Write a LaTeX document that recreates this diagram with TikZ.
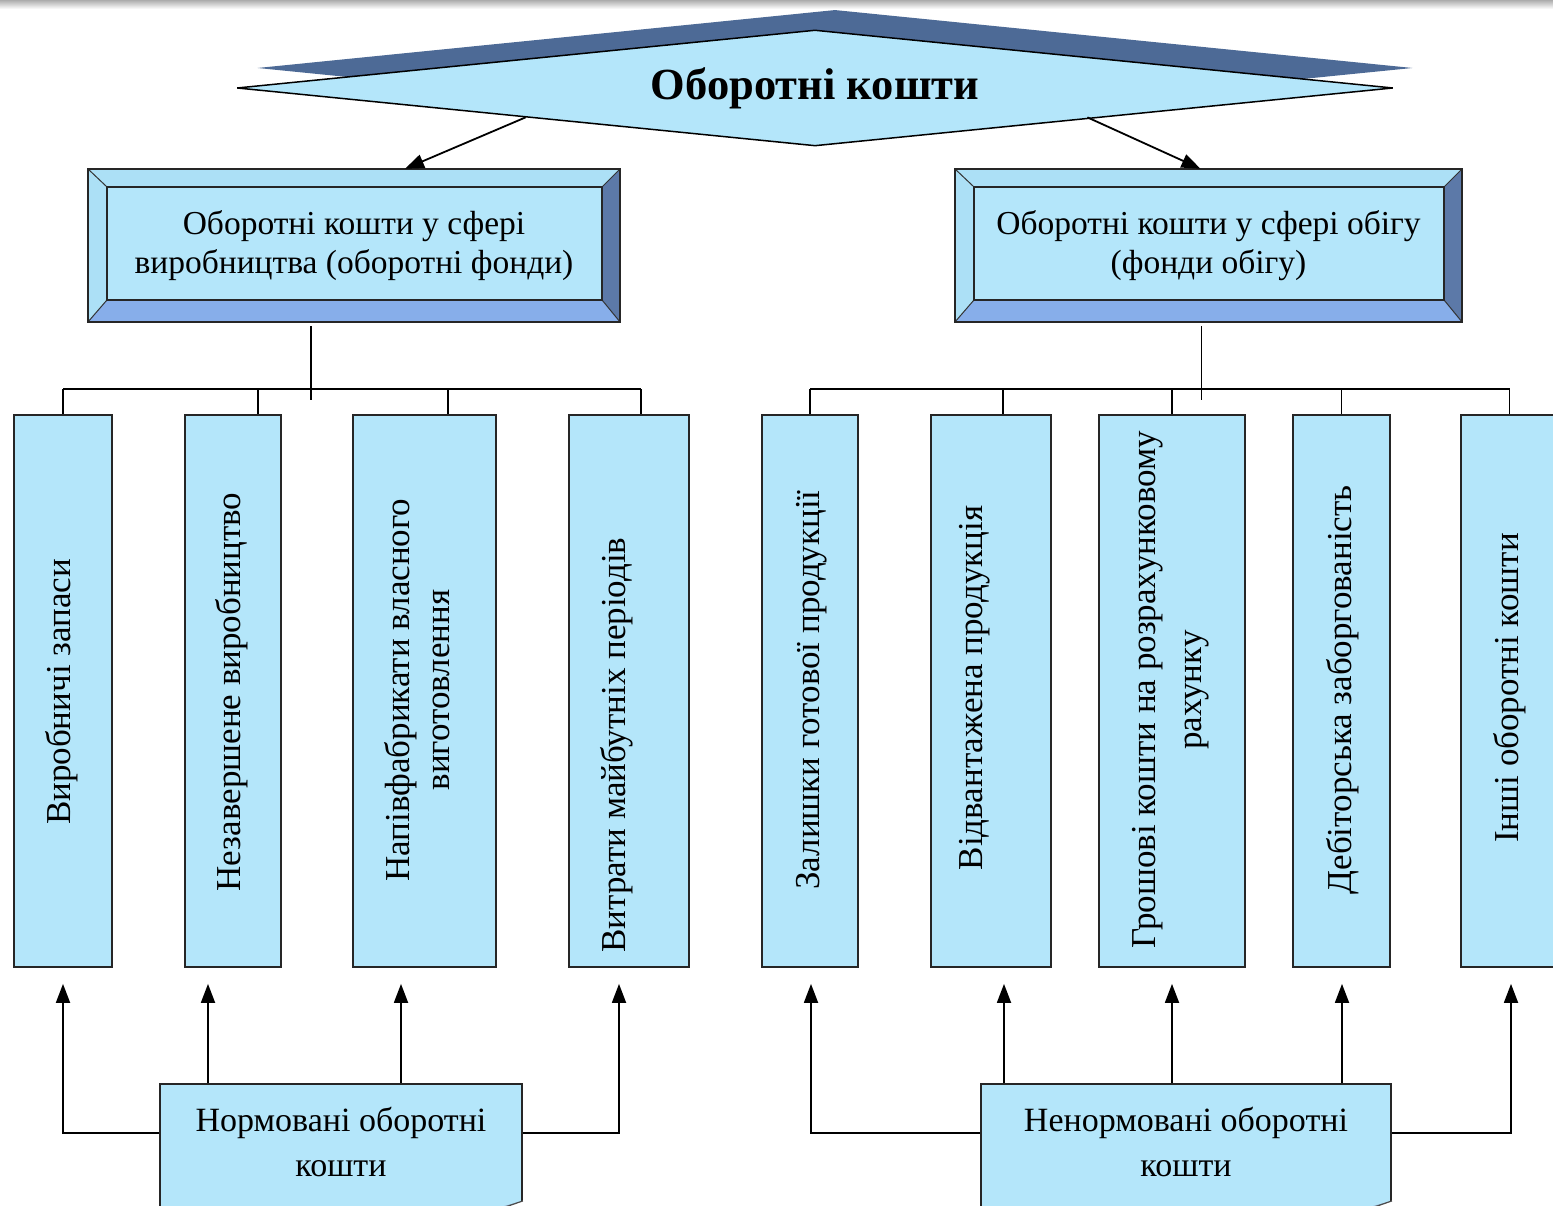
\documentclass[tikz,border=0pt]{standalone}
\usepackage{fontspec}
\setmainfont{Liberation Serif}
\usetikzlibrary{shapes.geometric,arrows.meta,calc}
\definecolor{fillb}{HTML}{B4E6FA}
\definecolor{bevt}{HTML}{ACE0F6}
\definecolor{darkd}{HTML}{4D6A96}
\definecolor{bevr}{HTML}{5C79A8}
\definecolor{bevb}{HTML}{87AEEA}
\definecolor{foldc}{HTML}{8FA6C4}
\newcommand\bevelize[1]{%
  \fill[bevt] (#1.north west) -- (#1.north east) -- ([shift={(-18,-18)}]#1.north east) -- ([shift={(19,-18)}]#1.north west) -- cycle;
  \fill[bevt] (#1.north west) -- ([shift={(19,-18)}]#1.north west) -- ([shift={(19,22)}]#1.south west) -- (#1.south west) -- cycle;
  \fill[bevr] (#1.north east) -- (#1.south east) -- ([shift={(-18,22)}]#1.south east) -- ([shift={(-18,-18)}]#1.north east) -- cycle;
  \fill[bevb] (#1.south west) -- (#1.south east) -- ([shift={(-18,22)}]#1.south east) -- ([shift={(19,22)}]#1.south west) -- cycle;
  \draw[line width=1pt, black!80] (#1.north west) -- ([shift={(19,-18)}]#1.north west)
        (#1.north east) -- ([shift={(-18,-18)}]#1.north east)
        (#1.south east) -- ([shift={(-18,22)}]#1.south east)
        (#1.south west) -- ([shift={(19,22)}]#1.south west);
  \draw[line width=1.8pt, black!85] ([shift={(19,-18)}]#1.north west) rectangle ([shift={(-18,22)}]#1.south east);
  \draw[line width=1.8pt, black!85] (#1.north west) rectangle (#1.south east);
}
\newcommand\foldize[1]{%
  \fill[white] ([yshift=16]#1.south east) -- ([xshift=1,yshift=-1]#1.south east) -- ([xshift=-46]#1.south east) -- cycle;
  \fill[foldc] ([yshift=16]#1.south east) -- ([xshift=-46]#1.south east) -- ([shift={(-22,10)}]#1.south east) -- cycle;
  \draw[line width=1.2pt, black!70] ([yshift=16]#1.south east) -- ([xshift=-46]#1.south east);
}
\begin{document}
\begin{tikzpicture}[x=1pt,y=1pt,
  ln/.style={line width=1.8pt, black},
  arr/.style={ln, -{Triangle[length=19pt,width=14pt]}},
  vbox/.style={draw=black!85, line width=1.8pt, fill=fillb, minimum height=552pt, inner sep=0pt},
  vtext/.style={rotate=90, font=\fontsize{35}{40}\selectfont, align=center, inner sep=0pt},
  bevel/.style={fill=fillb, minimum height=153pt, inner sep=0pt, font=\fontsize{33.5}{39}\selectfont, align=center},
  note/.style={draw=black!85, line width=1.8pt, fill=fillb, minimum height=132pt, inner sep=0pt},
  notetext/.style={font=\fontsize{34}{45}\selectfont, align=center, inner sep=0pt}
]
\clip (0,0) rectangle (1553,1206);
\fill[white] (0,0) rectangle (1553,1206);
\shade[top color=gray!65, bottom color=white] (0,1197) rectangle (1553,1206);

% title diamond
\node[diamond, aspect=10, fill=darkd, minimum width=1155pt, minimum height=116pt, inner sep=0pt] (dsh) at (835,1138) {};
\node[diamond, aspect=10, draw=black, line width=1.5pt, fill=fillb, minimum width=1156pt, minimum height=116pt, inner sep=0pt,
      font=\bfseries\fontsize{44.5}{48}\selectfont] (top) at (815,1118) {Оборотні кошти};

% level 2 bevel boxes
\node[bevel, minimum width=532pt] (lb) at (354,960.5) {Оборотні кошти у сфері\\виробництва (оборотні фонди)};
\bevelize{lb}
\node[bevel, minimum width=507pt] (rb) at (1208.5,960.5) {Оборотні кошти у сфері обігу\\(фонди обігу)};
\bevelize{rb}

\draw[arr] (top.south west) -- ([xshift=51pt]lb.north);
\draw[arr] ([xshift=-17pt]top.south east) -- ([xshift=-8pt]rb.north);

% vertical boxes
\node[vbox, minimum width=98pt]  (b1) at (63,515) {};
\node[vbox, minimum width=96pt]  (b2) at (233,515) {};
\node[vbox, minimum width=143pt] (b3) at (424.5,515) {};
\node[vbox, minimum width=120pt] (b4) at (629,515) {};
\node[vbox, minimum width=96pt]  (b5) at (810,515) {};
\node[vbox, minimum width=120pt] (b6) at (991,515) {};
\node[vbox, minimum width=146pt] (b7) at (1172,515) {};
\node[vbox, minimum width=97pt]  (b8) at (1341.5,515) {};
\node[vbox, minimum width=97pt]  (b9) at (1509.5,515) {};

\node[vtext] (t1) at (62,514) {Виробничі запаси};
\node[vtext] (t2) at (232,514) {Незавершене виробництво};
\node[vtext] (t3) at (417,516) {Напівфабрикати власного\\виготовлення};
\node[vtext] (t4) at (617,461) {Витрати майбутніх періодів};
\node[vtext] (t5) at (812,516) {Залишки готової продукції};
\node[vtext] (t6) at (975,518) {Відвантажена продукція};
\node[vtext, font=\fontsize{35}{46}\selectfont] (t7) at (1171,516) {Грошові кошти на розрахунковому\\рахунку};
\node[vtext] (t8) at (1343,516) {Дебіторська заборгованість};
\node[vtext] (t9) at (1510,518) {Інші оборотні кошти};

% trees
\draw[ln] ([xshift=-43pt,yshift=-4pt]lb.south) -- ++(0,-74);
\draw[ln] ([yshift=25pt]b1.north) -- ([shift={(12pt,25pt)}]b4.north);
\draw[ln] ([yshift=25pt]b1.north) -- (b1.north);
\draw[ln] ([shift={(25pt,25pt)}]b2.north) -- ([xshift=25pt]b2.north);
\draw[ln] ([shift={(23.5pt,25pt)}]b3.north) -- ([xshift=23.5pt]b3.north);
\draw[ln] ([shift={(12pt,25pt)}]b4.north) -- ([xshift=12pt]b4.north);

\draw[ln] ([xshift=-7pt,yshift=-4pt]rb.south) -- ++(0,-74);
\draw[ln] ([yshift=25pt]b5.north) -- ([yshift=25pt]b9.north);
\draw[ln] ([yshift=25pt]b5.north) -- (b5.north);
\draw[ln] ([shift={(12pt,25pt)}]b6.north) -- ([xshift=12pt]b6.north);
\draw[ln] ([yshift=25pt]b7.north) -- (b7.north);
\draw[ln] ([yshift=25pt]b8.north) -- (b8.north);
\draw[ln] ([yshift=25pt]b9.north) -- (b9.north);

% notes
\node[note, minimum width=362pt] (nl) at (341,56) {};
\foldize{nl}
\node[notetext] (nlt) at (341,64) {Нормовані оборотні\\кошти};
\node[note, minimum width=410pt] (nr) at (1186,56) {};
\foldize{nr}
\node[notetext] (nrt) at (1186,64) {Ненормовані оборотні\\кошти};

\draw[arr] ([yshift=17pt]nl.west) -| ([yshift=-16pt]b1.south);
\draw[arr] ([xshift=-133pt]nl.north) -- ([shift={(-25pt,-16pt)}]b2.south);
\draw[arr] ([xshift=60pt]nl.north) -- ([shift={(-23.5pt,-16pt)}]b3.south);
\draw[arr] ([yshift=17pt]nl.east) -| ([shift={(-10pt,-16pt)}]b4.south);

\draw[arr] ([yshift=17pt]nr.west) -| ([shift={(1pt,-16pt)}]b5.south);
\draw[arr] ([xshift=-182pt]nr.north) -- ([shift={(13pt,-16pt)}]b6.south);
\draw[arr] ([xshift=-14pt]nr.north) -- ([yshift=-16pt]b7.south);
\draw[arr] ([xshift=156pt]nr.north) -- ([shift={(0.5pt,-16pt)}]b8.south);
\draw[arr] ([yshift=17pt]nr.east) -| ([shift={(1.5pt,-16pt)}]b9.south);
\end{tikzpicture}
\end{document}
